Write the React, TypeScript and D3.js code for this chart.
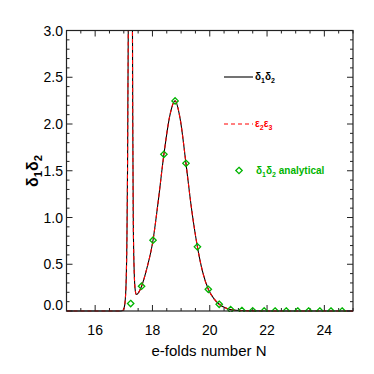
import React from "react";
import * as d3 from "d3";

// numerical delta1*delta2 (and epsilon2*epsilon3, same curve)
const curveN = [15.0, 16.9, 16.98, 17.03, 17.08, 17.11, 17.13, 17.145, 17.16, 17.18, 17.28, 17.3, 17.315, 17.33, 17.36, 17.4, 17.44, 17.5, 17.62, 17.8, 18.02, 18.2, 18.4, 18.6, 18.79, 18.97, 19.17, 19.37, 19.57, 19.75, 19.95, 20.15, 20.33, 20.5, 20.73, 21.0, 21.5, 22.0, 25.0];
const curveV = [0, 0, 0.01, 0.06, 0.3, 0.8, 1.5, 2.4, 3.3, 9, 9, 3.3, 1.9, 1.0, 0.45, 0.22, 0.176, 0.19, 0.265, 0.45, 0.757, 1.17, 1.676, 2.08, 2.247, 2.05, 1.579, 1.08, 0.686, 0.42, 0.232, 0.13, 0.072, 0.04, 0.015, 0.005, 0.001, 0, 0];

// analytical points
const anaN = [17.24, 17.62, 18.02, 18.4, 18.79, 19.17, 19.57, 19.95, 20.33, 20.73, 21.12, 21.5, 21.9, 22.28, 22.67, 23.07, 23.45, 23.84, 24.23, 24.62];
const anaV = [0.08, 0.265, 0.757, 1.676, 2.247, 1.579, 0.686, 0.232, 0.072, 0.015, 0.005, 0.002, 0.001, 0, 0, 0, 0, 0, 0, 0];

const xTicks = [16, 18, 20, 22, 24];
const yTicks = [0, 0.5, 1.0, 1.5, 2.0, 2.5, 3.0];

const font = "'Liberation Sans', Arial, sans-serif";
const green = "#00b400";

const Sub = ({ a, b, c, d, size }: { a: string; b: string; c: string; d: string; size: number }) => (
  <>
    {a}<tspan dy={size * 0.25} fontSize={size * 0.7}>{b}</tspan><tspan dy={-size * 0.25}>{c}</tspan><tspan dy={size * 0.25} fontSize={size * 0.7}>{d}</tspan>
  </>
);

const App = () => {
  const left = 66.5, right = 353, top = 30.5, bottom = 311;
  const x = d3.scaleLinear().domain([15, 25]).range([left, right]);
  const y = d3.scaleLinear().domain([0, 3]).range([bottom, top]);

  const pts = curveN.map((n, i) => [n, curveV[i]] as [number, number]);
  const line = d3.line<[number, number]>()
    .x(d => x(d[0]))
    .y(d => y(d[1]))
    .curve(d3.curveMonotoneX);
  const path = line(pts) || "";

  const xMinor = d3.range(15, 25.01, 0.5);
  const yMinor = d3.range(0, 3.001, 0.1);
  const isMajorX = (v: number) => Math.abs(v - Math.round(v / 2) * 2) < 1e-6 && v > 15;
  const isMajorY = (v: number) => Math.abs(v * 2 - Math.round(v * 2)) < 1e-6;

  const diamond = (cx: number, cy: number, r: number) =>
    `M${cx},${cy - r}L${cx + r},${cy}L${cx},${cy + r}L${cx - r},${cy}Z`;

  return (
    <svg width={374} height={374} style={{ position: "absolute", left: 0, top: 0, background: "#fff" }}>
      <defs>
        <clipPath id="plot">
          <rect x={left} y={top} width={right - left} height={bottom - top + 1} />
        </clipPath>
      </defs>

      {/* ticks on all four sides */}
      <g stroke="#222" strokeWidth={1}>
        {xMinor.map((v, i) => {
          const len = isMajorX(v) ? 6 : 3;
          const px = x(v);
          return (
            <g key={"xt" + i}>
              <line x1={px} x2={px} y1={bottom} y2={bottom - len} />
              <line x1={px} x2={px} y1={top} y2={top + len} />
            </g>
          );
        })}
        {yMinor.map((v, i) => {
          const len = isMajorY(v) ? 6 : 3;
          const py = y(v);
          return (
            <g key={"yt" + i}>
              <line x1={left} x2={left + len} y1={py} y2={py} />
              <line x1={right} x2={right - len} y1={py} y2={py} />
            </g>
          );
        })}
      </g>

      <g clipPath="url(#plot)">
        <path d={path} fill="none" stroke="#000" strokeWidth={1.1} />
        <path d={path} fill="none" stroke="#ff0000" strokeWidth={1.1} strokeDasharray="4,3" />
        {anaN.map((n, i) => (
          <path key={"d" + i} d={diamond(x(n), y(anaV[i]), 3.2)} fill="none" stroke={green} strokeWidth={1.3} />
        ))}
      </g>

      <rect x={left} y={top} width={right - left} height={bottom - top} fill="none" stroke="#222" strokeWidth={1.2} />

      {/* tick labels */}
      <g fontFamily={font} fontSize={14} fill="#000">
        {xTicks.map(t => (
          <text key={"xl" + t} x={x(t)} y={335} textAnchor="middle">{t}</text>
        ))}
        {yTicks.map(t => (
          <text key={"yl" + t} x={63} y={y(t) + (t === 0 ? -1 : 5)} textAnchor="end">{t.toFixed(1)}</text>
        ))}
        <text x={209} y={356} textAnchor="middle" fontSize={15}>e-folds number N</text>
      </g>

      <text transform="translate(38,171) rotate(-90)" textAnchor="middle" fontFamily={font} fontSize={16} fontWeight="bold">
        <Sub a="δ" b="1" c="δ" d="2" size={16} />
      </text>

      {/* legend */}
      <line x1={224} x2={253} y1={77} y2={77} stroke="#000" strokeWidth={1.1} />
      <text x={255} y={80} fontFamily={font} fontSize={10} fontWeight="bold" fill="#000">
        <Sub a="δ" b="1" c="δ" d="2" size={10} />
      </text>
      <line x1={224} x2={253} y1={124} y2={124} stroke="#ff0000" strokeWidth={1.1} strokeDasharray="4,3" />
      <text x={255} y={127} fontFamily={font} fontSize={10} fontWeight="bold" fill="#ff0000">
        <Sub a="ε" b="2" c="ε" d="3" size={10} />
      </text>
      <path d={diamond(239, 170.5, 3.2)} fill="none" stroke={green} strokeWidth={1.3} />
      <text x={256} y={174} fontFamily={font} fontSize={10} fontWeight="bold" fill={green}>
        <Sub a="δ" b="1" c="δ" d="2" size={10} /><tspan dy={-2.5}> analytical</tspan>
      </text>
    </svg>
  );
};

export default App;
